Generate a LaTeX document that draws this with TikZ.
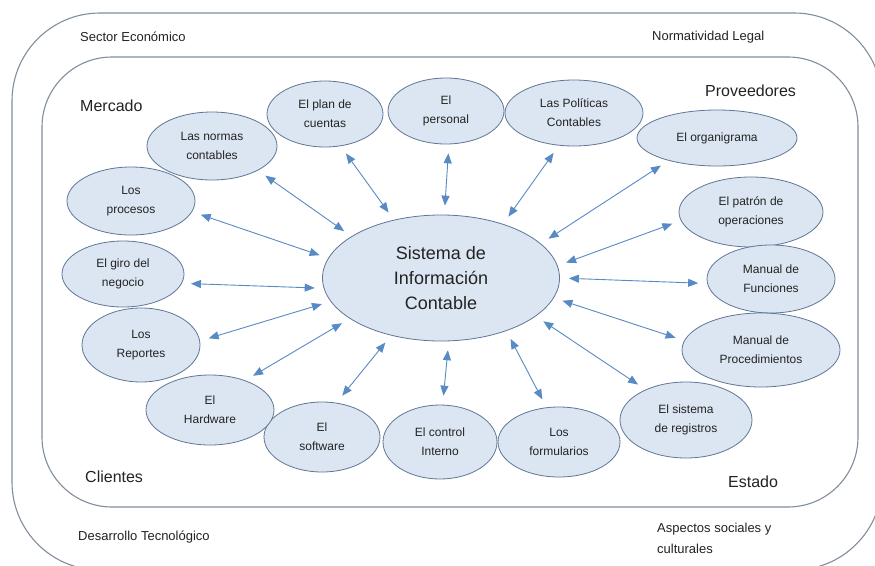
\documentclass[tikz,border=0pt]{standalone}
\usepackage{fontspec}
\setmainfont{Liberation Sans}
\usetikzlibrary{shapes.geometric,arrows.meta}
\definecolor{bubblefill}{RGB}{220,230,242}
\definecolor{bubbleline}{RGB}{95,118,150}
\definecolor{arrowblue}{RGB}{88,138,196}
\definecolor{framegray}{RGB}{128,142,158}
\definecolor{inkgray}{RGB}{35,35,35}
\tikzset{
    every node/.style={align=center, text=inkgray,
        font=\fontsize{12}{19}\selectfont}
}
\tikzset{
    bubble/.style 2 args={ellipse, draw=bubbleline, fill=bubblefill,
        line width=.8pt, inner sep=0pt, minimum width=#1pt, minimum height=#2pt}
}
\tikzset{
    every edge/.append style={draw=arrowblue, line width=.9pt, <->,
        >={Triangle[length=10pt,width=8pt]}, shorten <=9pt, shorten >=9pt}
}
\tikzset{
    tag/.style={anchor=west, inner sep=0pt, align=left},
    small/.style={font=\fontsize{13}{21}\selectfont},
    big/.style={font=\fontsize{16}{20}\selectfont}
}

\begin{document}
\begin{tikzpicture}[x=1pt, y=-1pt]
	\useasboundingbox (0,0) rectangle (875,565);
	\fill[white] (0,0) rectangle (875,565);
	\clip (0,0) rectangle (875,565);
	% frames
	\draw[framegray, line width=1.1pt, rounded corners=88pt] (12,13) rectangle (882,570);
	\draw[framegray, line width=1.1pt, rounded corners=70pt] (42,57) rectangle (858,507);

	\node (sectorec) [tag, small] at (80,37) {Sector Económico};
	\node (normleg) [tag, small] at (652,37) {Normatividad Legal};
	\node (desarr) [tag, small] at (78,537) {Desarrollo Tecnológico};
	\node (aspectos) [tag, small] at (657,538) {Aspectos sociales y\\culturales};
	\node (mercado) [tag, big] at (80,106) {Mercado};
	\node (proveed) [tag, big] at (705,91) {Proveedores};
	\node (clientes) [tag, big] at (85,477) {Clientes};
	\node (estado) [tag, big] at (728,482) {Estado};

	\node (sic) [bubble={237}{126}, font=\fontsize{18}{25}\selectfont]
		at (441,278) {Sistema de\\Información\\Contable};
	\node (normas) [bubble={130}{68}] at (212,146) {Las normas\\contables};
	\node (plan) [bubble={116}{66}] at (325,114) {El plan de\\cuentas};
	\node (personal) [bubble={116}{66}] at (446,111) {El\\personal};
	\node (politicas) [bubble={138}{66}] at (574,113) {Las Políticas\\Contables};
	\node (organig) [bubble={160}{56}] at (717,138) {El organigrama};
	\node (patron) [bubble={144}{70}] at (751,212) {El patrón de\\operaciones};
	\node (funciones) [bubble={128}{68}] at (771,279) {Manual de\\Funciones};
	\node (procedim) [bubble={158}{74}] at (761,350) {Manual de\\Procedimientos};
	\node (registros) [bubble={132}{76}] at (686,420) {El sistema\\de registros};
	\node (formul) [bubble={122}{70}] at (559,442) {Los\\formularios};
	\node (control) [bubble={114}{74}] at (440,442) {El control\\Interno};
	\node (software) [bubble={116}{70}] at (322,437) {El\\software};
	\node (hardware) [bubble={128}{70}] at (210,410) {El\\Hardware};
	\node (reportes) [bubble={118}{74}] at (141,345) {Los\\Reportes};
	\node (giro) [bubble={122}{66}] at (123,274) {El giro del\\negocio};
	\node (procesos) [bubble={128}{68}] at (131,201) {Los\\procesos};

	\draw (sic.155) edge (normas.-28); \draw (sic.129) edge (plan.-64);
	\draw (sic.87) edge (personal.-85); \draw (sic.41) edge (politicas.-115);
	\draw (sic.19) edge (organig.-155); \draw (sic.6) edge (patron.-173);
	\draw (sic.0) edge (funciones.184); \draw (sic.-10) edge (procedim.173);
	\draw (sic.-22) edge (registros.143); \draw (sic.-39) edge (formul.110);
	\draw (sic.-83) edge (control.86); \draw (sic.-131) edge (software.67);
	\draw (sic.-156) edge (hardware.40); \draw (sic.-168) edge (reportes.4);
	\draw (sic.185) edge (giro.-9); \draw (sic.170) edge (procesos.-10);
\end{tikzpicture}
\end{document}
